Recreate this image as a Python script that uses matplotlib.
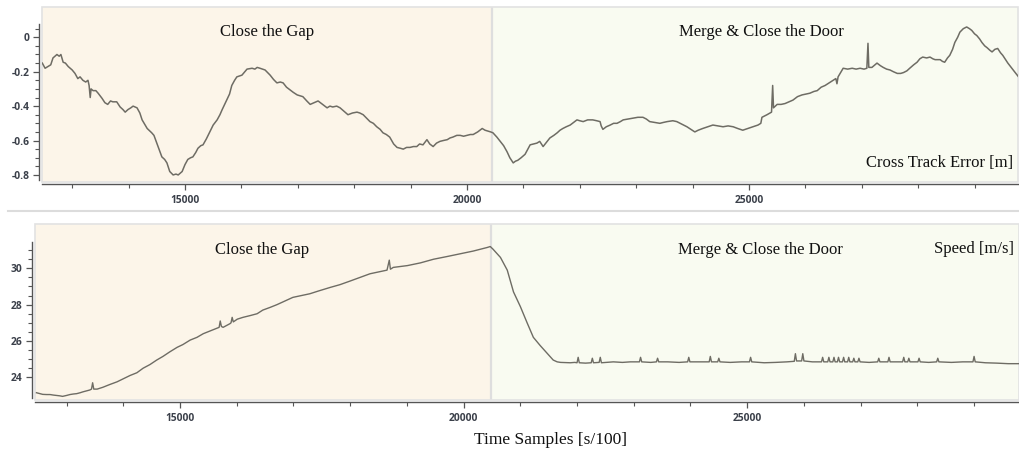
import matplotlib
matplotlib.use("Agg")
import matplotlib.pyplot as plt
from matplotlib.patches import Rectangle
from matplotlib.lines import Line2D
from matplotlib.ticker import MultipleLocator, FixedLocator

# ---------------- data ----------------
cte_t = [12470, 12520, 12570, 12620, 12660, 12730, 12770, 12800, 12840, 12880, 12930, 13000,
         13050, 13100, 13140, 13190, 13240, 13280, 13300, 13320, 13335, 13370, 13420, 13460,
         13530, 13580, 13630, 13680, 13720, 13790, 13850, 13900, 13940, 13990, 14040, 14080,
         14150, 14200, 14240, 14330, 14410, 14450, 14500, 14550, 14590, 14640, 14680, 14730,
         14790, 14840, 14880, 14950, 15000, 15050, 15100, 15140, 15190, 15230, 15280, 15320,
         15380, 15440, 15500, 15570, 15620, 15660, 15740, 15790, 15830, 15880, 15920, 16010,
         16060, 16100, 16190, 16240, 16280, 16330, 16420, 16510, 16570, 16630, 16690, 16740,
         16800, 16860, 16920, 16990, 17090, 17160, 17220, 17290, 17360, 17440, 17520, 17570,
         17620, 17690, 17750, 17820, 17890, 17970, 18050, 18100, 18160, 18220, 18280, 18340,
         18400, 18460, 18510, 18570, 18630, 18700, 18760, 18820, 18870, 18930, 18990, 19050,
         19110, 19160, 19220, 19290, 19340, 19400, 19460, 19520, 19580, 19650, 19700, 19750,
         19820, 19880, 19940, 20000, 20060, 20110, 20190, 20270, 20320, 20370, 20420, 20460,
         20530, 20590, 20650, 20710, 20760, 20820, 20860, 20900, 20960, 21030, 21080, 21120,
         21180, 21240, 21290, 21350, 21410, 21470, 21540, 21600, 21650, 21700, 21760, 21830,
         21890, 21950, 22000, 22060, 22140, 22230, 22300, 22360, 22380, 22410, 22470, 22540,
         22600, 22660, 22720, 22770, 22860, 22940, 23030, 23120, 23180, 23240, 23330, 23420,
         23480, 23550, 23650, 23720, 23780, 23840, 23900, 23970, 24040, 24100, 24180, 24270,
         24360, 24450, 24540, 24630, 24720, 24800, 24890, 24980, 25070, 25160, 25210, 25230,
         25320, 25400, 25420, 25435, 25500, 25570, 25640, 25710, 25780, 25860, 25940, 26010,
         26080, 26150, 26210, 26280, 26350, 26420, 26490, 26540, 26560, 26580, 26670, 26750,
         26830, 26900, 26970, 27040, 27090, 27110, 27125, 27180, 27270, 27330, 27380, 27440,
         27500, 27560, 27630, 27690, 27740, 27800, 27850, 27920, 27980, 28030, 28080, 28150,
         28210, 28260, 28300, 28340, 28390, 28430, 28470, 28520, 28560, 28610, 28650, 28700,
         28740, 28800, 28860, 28910, 28950, 29000, 29040, 29090, 29130, 29180, 29220, 29270,
         29310, 29360, 29410, 29460, 29500, 29550, 29590, 29660, 29720, 29780]
cte_val = [-0.15, -0.18, -0.17, -0.16, -0.12, -0.10, -0.11, -0.10, -0.145, -0.15, -0.17, -0.19,
           -0.21, -0.24, -0.23, -0.25, -0.26, -0.25, -0.28, -0.35, -0.30, -0.31, -0.31, -0.325,
           -0.355, -0.38, -0.39, -0.37, -0.375, -0.375, -0.405, -0.42, -0.435, -0.42, -0.41, -0.40,
           -0.41, -0.44, -0.48, -0.53, -0.555, -0.57, -0.615, -0.66, -0.695, -0.71, -0.73, -0.78,
           -0.80, -0.795, -0.80, -0.78, -0.74, -0.71, -0.70, -0.695, -0.67, -0.645, -0.63, -0.625,
           -0.59, -0.55, -0.51, -0.48, -0.45, -0.42, -0.365, -0.33, -0.28, -0.25, -0.23, -0.22,
           -0.20, -0.185, -0.18, -0.185, -0.175, -0.18, -0.19, -0.22, -0.245, -0.265, -0.26, -0.265,
           -0.29, -0.305, -0.32, -0.335, -0.345, -0.37, -0.39, -0.38, -0.37, -0.39, -0.41, -0.40,
           -0.405, -0.40, -0.41, -0.43, -0.45, -0.44, -0.435, -0.44, -0.45, -0.47, -0.49, -0.50,
           -0.52, -0.535, -0.555, -0.565, -0.58, -0.62, -0.64, -0.645, -0.65, -0.64, -0.64, -0.635,
           -0.635, -0.62, -0.625, -0.595, -0.62, -0.635, -0.615, -0.605, -0.60, -0.595, -0.585, -0.58,
           -0.57, -0.57, -0.575, -0.57, -0.565, -0.565, -0.55, -0.53, -0.54, -0.545, -0.55, -0.555,
           -0.58, -0.605, -0.63, -0.665, -0.70, -0.73, -0.72, -0.715, -0.70, -0.68, -0.65, -0.625,
           -0.62, -0.615, -0.605, -0.635, -0.61, -0.585, -0.57, -0.555, -0.54, -0.53, -0.52, -0.51,
           -0.495, -0.48, -0.485, -0.49, -0.48, -0.48, -0.485, -0.49, -0.515, -0.535, -0.52, -0.51,
           -0.50, -0.50, -0.49, -0.48, -0.475, -0.47, -0.465, -0.465, -0.475, -0.49, -0.495, -0.50,
           -0.495, -0.49, -0.485, -0.49, -0.50, -0.51, -0.52, -0.535, -0.55, -0.54, -0.53, -0.52,
           -0.51, -0.515, -0.52, -0.515, -0.52, -0.53, -0.54, -0.53, -0.52, -0.51, -0.50, -0.465,
           -0.45, -0.435, -0.28, -0.41, -0.39, -0.39, -0.385, -0.375, -0.365, -0.345, -0.335, -0.33,
           -0.325, -0.315, -0.31, -0.29, -0.28, -0.265, -0.25, -0.24, -0.27, -0.23, -0.18, -0.185,
           -0.18, -0.185, -0.18, -0.185, -0.18, -0.035, -0.175, -0.175, -0.15, -0.165, -0.175, -0.185,
           -0.19, -0.20, -0.21, -0.21, -0.205, -0.195, -0.18, -0.16, -0.145, -0.125, -0.115, -0.12,
           -0.115, -0.125, -0.13, -0.13, -0.13, -0.14, -0.145, -0.12, -0.105, -0.07, -0.03, 0.00,
           0.03, 0.05, 0.06, 0.05, 0.04, 0.02, 0.01, -0.01, -0.03, -0.05, -0.06, -0.075,
           -0.085, -0.07, -0.065, -0.09, -0.105, -0.13, -0.15, -0.18, -0.205, -0.23]

spd_t = [12470, 12530, 12580, 12650, 12710, 12770, 12830, 12880, 12930, 13000, 13060, 13120,
         13180, 13240, 13290, 13350, 13410, 13440, 13460, 13480, 13540, 13640, 13760, 13890,
         13990, 14120, 14240, 14350, 14470, 14590, 14700, 14820, 14950, 15050, 15180, 15300,
         15410, 15530, 15650, 15690, 15710, 15730, 15760, 15880, 15900, 15920, 15940, 16010,
         16110, 16240, 16360, 16460, 16590, 16710, 16850, 16990, 17140, 17290, 17440, 17650,
         17820, 18000, 18350, 18500, 18650, 18690, 18710, 18760, 19010, 19240, 19470, 19710,
         19940, 20170, 20420, 20470, 20520, 20650, 20770, 20880, 21000, 21120, 21230, 21350,
         21480, 21580, 21650, 21710, 21880, 21960, 22000, 22020, 22040, 22150, 22250, 22270,
         22290, 22390, 22410, 22430, 22640, 22800, 22940, 23100, 23120, 23140, 23300, 23400,
         23420, 23440, 23600, 23800, 23950, 23970, 23990, 24150, 24330, 24350, 24370, 24480,
         24500, 24520, 24700, 24900, 25040, 25060, 25080, 25300, 25500, 25700, 25830, 25850,
         25870, 25960, 25980, 26000, 26150, 26310, 26330, 26350, 26420, 26440, 26460, 26510,
         26530, 26550, 26590, 26610, 26630, 26680, 26700, 26720, 26770, 26790, 26810, 26860,
         26880, 26900, 26950, 26970, 26990, 27150, 27300, 27320, 27340, 27480, 27500, 27520,
         27740, 27760, 27780, 27830, 27850, 27870, 28010, 28030, 28050, 28200, 28340, 28360,
         28380, 28600, 28800, 28980, 29000, 29020, 29200, 29400, 29600, 29800]
spd_val = [23.15, 23.10, 23.06, 23.05, 23.05, 23.02, 23.00, 22.98, 22.95, 23.00, 23.05, 23.08,
           23.10, 23.15, 23.20, 23.25, 23.30, 23.35, 23.70, 23.35, 23.35, 23.45, 23.60, 23.75,
           23.90, 24.10, 24.25, 24.50, 24.70, 24.95, 25.15, 25.40, 25.65, 25.80, 26.05, 26.20,
           26.40, 26.55, 26.70, 26.75, 27.10, 26.80, 26.75, 26.95, 27.00, 27.30, 27.05, 27.20,
           27.30, 27.40, 27.50, 27.70, 27.85, 28.00, 28.20, 28.40, 28.50, 28.60, 28.75, 28.95,
           29.10, 29.30, 29.70, 29.80, 29.90, 30.45, 29.95, 30.05, 30.15, 30.30, 30.50, 30.65,
           30.80, 30.95, 31.15, 31.20, 31.05, 30.60, 29.90, 28.70, 27.90, 27.00, 26.20, 25.75,
           25.30, 24.95, 24.85, 24.82, 24.80, 24.82, 24.80, 25.10, 24.80, 24.78, 24.80, 25.05,
           24.80, 24.82, 25.10, 24.80, 24.85, 24.82, 24.85, 24.85, 25.10, 24.85, 24.82, 24.85,
           25.05, 24.85, 24.85, 24.82, 24.85, 25.10, 24.85, 24.85, 24.85, 25.15, 24.85, 24.85,
           25.05, 24.85, 24.82, 24.85, 24.85, 25.10, 24.85, 24.80, 24.82, 24.85, 24.88, 25.30,
           24.90, 24.90, 25.30, 24.90, 24.85, 24.85, 25.10, 24.85, 24.85, 25.10, 24.85, 24.85,
           25.10, 24.85, 24.85, 25.10, 24.85, 24.85, 25.10, 24.85, 24.85, 25.10, 24.85, 24.85,
           25.05, 24.85, 24.85, 25.05, 24.85, 24.82, 24.85, 25.05, 24.85, 24.85, 25.10, 24.85,
           24.85, 25.10, 24.85, 24.85, 25.05, 24.85, 24.85, 25.05, 24.85, 24.82, 24.85, 25.05,
           24.85, 24.82, 24.85, 24.85, 25.15, 24.85, 24.80, 24.78, 24.75, 24.75]

phase_labels = ["Close the Gap", "Merge & Close the Door"]
cte_split = 20450
spd_split = 20480
cte_yticks = [-0.8, -0.6, -0.4, -0.2, 0.0]
spd_yticks = [24, 26, 28, 30]

# ---------------- style ----------------
LEFT_BG = "#fcf5e9"
RIGHT_BG = "#f9fbf1"
LINE_C = "#6e6c64"
SPINE_C = "#555555"
TICK_C = "#3b404a"
BOX_C = "#e2e2e2"
SERIF = ["Liberation Serif", "DejaVu Serif"]
SANS = ["Open Sans", "DejaVu Sans"]

plt.rcParams["font.family"] = SANS
plt.rcParams["font.weight"] = "bold"

W, H = 1019, 455
fig = plt.figure(figsize=(W / 100, H / 100), dpi=100)


def setup(ax, xlim, ylim, split, ybounds, ymajor, yminor_step, yfmt):
    ax.set_xlim(*xlim)
    ax.set_ylim(*ylim)
    ax.set_facecolor("none")
    ax.axvspan(xlim[0], split, color=LEFT_BG, zorder=0, lw=0)
    ax.axvspan(split, xlim[1], color=RIGHT_BG, zorder=0, lw=0)
    ax.axvline(split, color="#dedede", lw=1.6, zorder=1)
    ax.add_patch(Rectangle((0, 0), 1, 1, transform=ax.transAxes, fill=False,
                           edgecolor=BOX_C, lw=1.2, zorder=1, clip_on=False))
    for s in ["top", "right"]:
        ax.spines[s].set_visible(False)
    ax.spines["left"].set_position(("outward", 2.5))
    ax.spines["left"].set_bounds(*ybounds)
    ax.spines["left"].set_color(SPINE_C)
    ax.spines["left"].set_linewidth(1.0)
    ax.spines["bottom"].set_position(("outward", 1.5))
    ax.spines["bottom"].set_color(SPINE_C)
    ax.spines["bottom"].set_linewidth(1.0)
    ax.xaxis.set_major_locator(MultipleLocator(5000))
    ax.xaxis.set_minor_locator(MultipleLocator(1000))
    ax.yaxis.set_major_locator(FixedLocator(ymajor))
    lo, hi = ybounds
    n0 = int(round(ymajor[0] / yminor_step))
    minors = []
    k = n0
    while k * yminor_step <= hi + 1e-9:
        v = k * yminor_step
        if v >= lo - 1e-9:
            minors.append(round(v, 4))
        k += 1
    ax.yaxis.set_minor_locator(FixedLocator(minors))
    ax.yaxis.set_major_formatter(yfmt)
    ax.tick_params(axis="both", which="major", length=4, width=0.9, color=SPINE_C,
                   labelsize=7.4, labelcolor=TICK_C)
    ax.tick_params(axis="x", which="major", pad=4)
    ax.tick_params(axis="y", which="major", pad=2.5)
    ax.tick_params(axis="both", which="minor", length=3, width=0.8, color=SPINE_C)


def yfmt_cte(v, pos):
    if abs(v) < 1e-9:
        return "0"
    return f"{v:.1f}"


def yfmt_spd(v, pos):
    return f"{v:.0f}"


TXT = dict(family=SERIF, fontsize=12, color="#111111", fontweight="normal")

# top panel
ax1 = fig.add_axes([42 / W, 1 - 182 / H, (1018 - 42) / W, (182 - 7) / H])
ax1.plot(cte_t, cte_val, color=LINE_C, lw=1.1, zorder=3)
setup(ax1, (12465, 29770), (-0.841, 0.176), cte_split, (-0.83, 0.08), cte_yticks, 0.05, yfmt_cte)
ax1.text(0.2305, 0.857, phase_labels[0], transform=ax1.transAxes, ha="center", va="center", **TXT)
ax1.text(0.7367, 0.857, phase_labels[1], transform=ax1.transAxes, ha="center", va="center", **TXT)
ax1.text(0.995, 0.11, "Cross Track Error [m]", transform=ax1.transAxes, ha="right",
         va="center", **TXT)

# bottom panel
ax2 = fig.add_axes([35 / W, 1 - 400 / H, (1019 - 35) / W, (400 - 224) / H])
ax2.plot(spd_t, spd_val, color=LINE_C, lw=1.0, zorder=3)
setup(ax2, (12444, 29792), (22.75, 32.44), spd_split, (22.84, 31.43), spd_yticks, 0.5, yfmt_spd)
ax2.text(0.2307, 0.855, phase_labels[0], transform=ax2.transAxes, ha="center", va="center", **TXT)
ax2.text(0.7368, 0.855, phase_labels[1], transform=ax2.transAxes, ha="center", va="center", **TXT)
ax2.text(0.995, 0.86, "Speed [m/s]", transform=ax2.transAxes, ha="right", va="center", **TXT)

fig.text(550 / W, 1 - 440 / H, "Time Samples [s/100]", ha="center", va="center",
         family=SERIF, fontsize=12.5, color="#111111", fontweight="normal")

# separator line between the panels
fig.add_artist(Line2D([8 / W, 1.0], [1 - 211 / H, 1 - 211 / H], transform=fig.transFigure,
                      color="#dcdcdc", lw=1.5))

fig.savefig("out.png", dpi=100, facecolor="white")
